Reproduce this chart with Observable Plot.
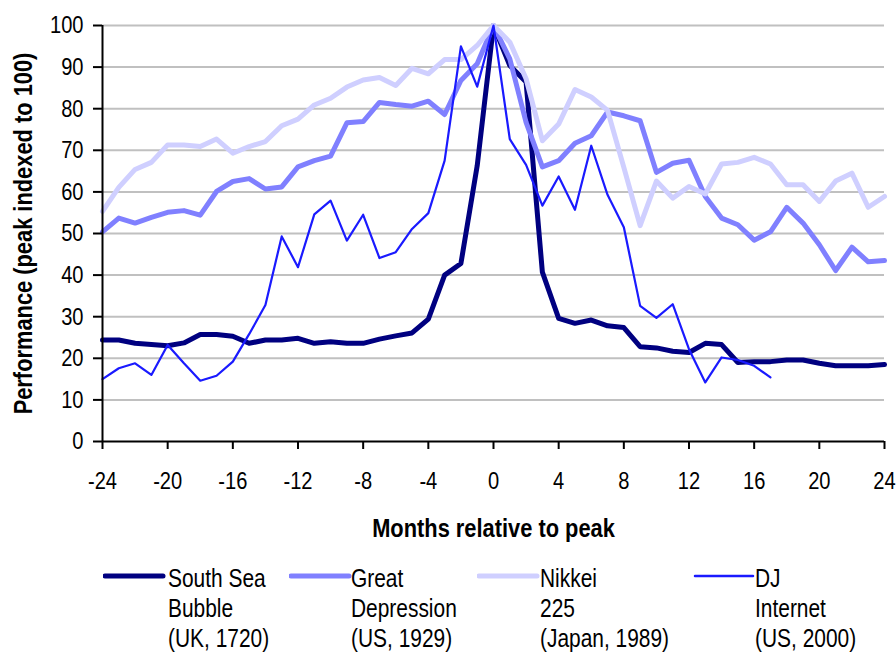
<!DOCTYPE html>
<html>
<head>
<meta charset="utf-8">
<script src="https://cdn.jsdelivr.net/npm/d3@7"></script>
<script src="https://cdn.jsdelivr.net/npm/@observablehq/plot@0.6"></script>
<style>
  body { margin: 0; background: #fff; }
  #wrap { position: relative; width: 896px; height: 653px; overflow: hidden;
          font-family: "Liberation Sans", Arial, sans-serif; }
  .leg { position: absolute; top: 563px; left: 0; }
  .leg svg { position: absolute; top: 0; }
  .leg .t { position: absolute; top: 0; font-size: 25.5px; line-height: 30px; color: #000;
            white-space: nowrap; transform: scaleX(0.82); transform-origin: 0 0; }
</style>
</head>
<body>
<div id="wrap"></div>
<script>
// ---- data ----
const months = [-24,-23,-22,-21,-20,-19,-18,-17,-16,-15,-14,-13,-12,-11,-10,-9,-8,-7,-6,-5,-4,-3,-2,-1,
                0,1,2,3,4,5,6,7,8,9,10,11,12,13,14,15,16,17,18,19,20,21,22,23,24];
const southSea = [24.4,24.4,23.6,23.3,23.0,23.7,25.7,25.7,25.3,23.6,24.4,24.4,24.8,23.6,24.0,23.6,23.6,24.6,25.4,26.1,29.4,40.0,42.8,66.3,
                  100,90.4,86.4,40.7,29.6,28.4,29.2,27.8,27.4,22.8,22.5,21.7,21.4,23.6,23.3,19.0,19.2,19.2,19.6,19.6,18.8,18.2,18.2,18.2,18.5];
const greatDepression = [50.4,53.7,52.5,53.9,55.1,55.5,54.4,60.1,62.5,63.2,60.7,61.2,66.0,67.5,68.6,76.6,76.9,81.5,81.0,80.6,81.8,78.6,86.8,90.8,
                  100,92.0,76.7,66.0,67.5,71.7,73.5,79.2,78.3,77.1,64.7,66.9,67.6,58.9,53.7,52.1,48.4,50.4,56.3,52.5,47.3,41.1,46.7,43.2,43.5];
const nikkei = [55.3,61.1,65.4,67.1,71.3,71.3,70.9,72.7,69.3,70.9,72.1,75.9,77.5,80.9,82.5,85.2,86.9,87.5,85.6,89.7,88.4,91.8,91.8,95.2,
                  100,96.0,87.2,72.3,76.3,84.6,82.8,79.6,65.9,51.9,62.6,58.5,61.3,59.5,66.7,67.1,68.3,66.7,61.7,61.7,57.7,62.6,64.5,56.3,58.9];
const djInternet = [15.0,17.6,18.8,16.0,23.2,18.8,14.6,15.8,19.2,25.8,32.8,49.3,41.9,54.6,57.9,48.3,54.5,44.1,45.5,51.1,54.9,67.5,95.0,85.3,
                  100,72.7,66.5,56.7,63.7,55.7,71.1,59.3,51.5,32.6,29.7,33.0,22.2,14.2,20.2,19.6,18.2,15.4];
const seriesNames = ["South Sea Bubble (UK, 1720)", "Great Depression (US, 1929)", "Nikkei 225 (Japan, 1989)", "DJ Internet (US, 2000)"];
const legendLines = [["South Sea","Bubble","(UK, 1720)"],["Great","Depression","(US, 1929)"],["Nikkei","225","(Japan, 1989)"],["DJ","Internet","(US, 2000)"]];
const xTicks = [-24,-20,-16,-12,-8,-4,0,4,8,12,16,20,24];
const yTicks = [0,10,20,30,40,50,60,70,80,90,100];
const xTitle = "Months relative to peak";
const yTitle = "Performance (peak indexed to 100)";

// ---- styles ----
const colors = ["#000080", "#8080ff", "#cfcfff", "#1a1aff"];
const widths = [5, 5, 5, 2.2];
const legendSwatchX = [103, 289, 477, 693];
const legendTextX = [168, 351, 540, 755];

const seriesValues = [southSea, greatDepression, nikkei, djInternet];
const rows = seriesValues.flatMap((vals, i) =>
  vals.map((v, j) => ({series: seriesNames[i], month: months[j], value: v})));

const font = '"Liberation Sans", Arial, sans-serif';

const chart = Plot.plot({
  width: 896,
  height: 560,
  marginLeft: 102,
  marginRight: 12,
  marginTop: 25,
  marginBottom: 119,
  style: {fontFamily: font, fontSize: "24.5px", color: "#000", background: "#fff", overflow: "visible"},
  x: {domain: [-24, 24]},
  y: {domain: [0, 100]},
  marks: [
    Plot.ruleY(yTicks.filter(d => d > 0), {stroke: "#c0c0c0", strokeWidth: 2}),
    ...seriesNames.map((name, i) =>
      Plot.line(rows.filter(r => r.series === name), {
        x: "month", y: "value", stroke: colors[i], strokeWidth: widths[i],
        strokeLinejoin: "round", strokeLinecap: "round"
      })),
    Plot.axisY({ticks: yTicks, tickSize: 9, tickPadding: 10, tickFormat: d => String(d),
      stroke: "#000", strokeWidth: 2, strokeOpacity: 1,
      label: yTitle, labelAnchor: "center", labelArrow: "none", labelOffset: 89}),
    Plot.axisX({ticks: xTicks, tickSize: 8, tickPadding: 22, tickFormat: d => String(d),
      stroke: "#000", strokeWidth: 2, strokeOpacity: 1,
      label: xTitle, labelAnchor: "center", labelArrow: "none", labelOffset: 95}),
    Plot.ruleY([0], {stroke: "#000", strokeWidth: 2}),
    Plot.ruleX([-24], {stroke: "#000", strokeWidth: 2})
  ]
});
// bold axis titles
chart.querySelectorAll('g[aria-label="x-axis label"] text, g[aria-label="y-axis label"] text').forEach(t => {
  t.setAttribute("font-weight", "bold");
  t.setAttribute("font-size", "26px");
  t.dataset.scale = "0.84";
});

const wrap = document.getElementById("wrap");
wrap.appendChild(chart);

// narrow the glyphs (Arial Narrow look)
chart.querySelectorAll("text").forEach(t => {
  const s = +(t.dataset.scale || 0.82);
  const L = t.getComputedTextLength();
  if (L > 0) {
    t.setAttribute("textLength", (L * s).toFixed(2));
    t.setAttribute("lengthAdjust", "spacingAndGlyphs");
  }
});

legendLines.forEach((lines, i) => {
  const item = document.createElement("div");
  item.className = "leg";
  const sw = document.createElementNS("http://www.w3.org/2000/svg", "svg");
  sw.setAttribute("width", 64); sw.setAttribute("height", 30);
  sw.style.left = (legendSwatchX[i]) + "px";
  const ln = document.createElementNS("http://www.w3.org/2000/svg", "line");
  ln.setAttribute("x1", 2); ln.setAttribute("x2", 60);
  ln.setAttribute("y1", 13); ln.setAttribute("y2", 13);
  ln.setAttribute("stroke", colors[i]); ln.setAttribute("stroke-width", i === 3 ? 2.5 : 5);
  ln.setAttribute("stroke-linecap", "round");
  sw.appendChild(ln);
  item.appendChild(sw);
  const t = document.createElement("div");
  t.className = "t";
  t.style.left = legendTextX[i] + "px";
  t.innerHTML = lines.join("<br>");
  item.appendChild(t);
  wrap.appendChild(item);
});
</script>
</body>
</html>
